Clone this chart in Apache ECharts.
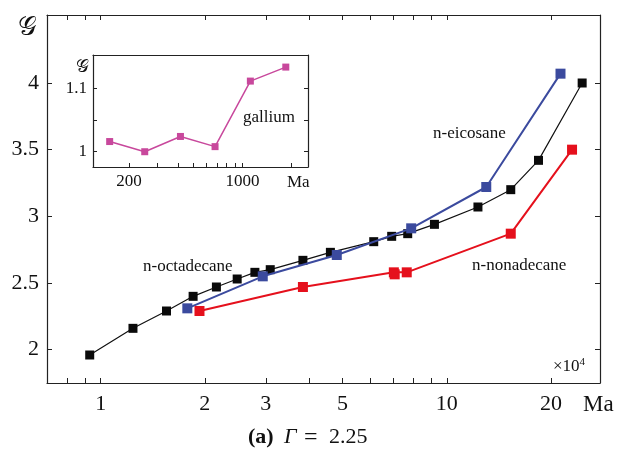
<!DOCTYPE html>
<html>
<head>
<meta charset="utf-8">
<script src="https://cdn.jsdelivr.net/npm/echarts@6/dist/echarts.min.js"></script>
<style>html,body{margin:0;padding:0;background:#fff}#c{width:618px;height:450px}</style>
</head>
<body>
<div id="c"></div>
<script>
// ---- data (Ma in units of 10^4, G values) ----
var octadecaneMa = [0.93, 1.24, 1.55, 1.85, 2.16, 2.48, 2.79, 3.09, 3.84, 4.61, 6.15, 6.93, 7.71, 9.21, 12.3, 15.3, 18.4, 24.6];
var octadecaneG  = [1.96, 2.16, 2.29, 2.40, 2.47, 2.53, 2.58, 2.60, 2.67, 2.73, 2.81, 2.85, 2.87, 2.94, 3.07, 3.20, 3.42, 4.00];
var eicosaneMa = [1.78, 2.94, 4.81, 7.89, 13.0, 21.3];
var eicosaneG  = [2.31, 2.55, 2.71, 2.91, 3.22, 4.07];
var nonadecaneMa = [1.93, 3.84, 7.03, 7.07, 7.66, 15.3, 23.0];
var nonadecaneG  = [2.29, 2.47, 2.58, 2.565, 2.58, 2.87, 3.50];
var galliumMa = [152, 250, 415, 678, 1119, 1850];
var galliumG  = [1.016, 1.000, 1.024, 1.008, 1.111, 1.133];

var mainXTickValues  = [0.8, 0.9, 1, 2, 3, 4, 5, 6, 7, 8, 9, 10, 20];
var mainXLabelValues = [1, 2, 3, 5, 10, 20];
var mainYTickValues  = [2, 2.5, 3, 3.5, 4];
var insetXTickValues = [200, 300, 400, 500, 600, 700, 800, 900, 1000, 2000];
var insetXLabelValues = [200, 1000];
var insetYTickValues = [1, 1.05, 1.1];
var insetYLabelValues = [1, 1.1];

function zip(a, b) { return a.map(function (v, i) { return [v, b[i]]; }); }

var serif = '"Liberation Serif", "DejaVu Serif", serif';
var axisLine = { show: true, onZero: false, lineStyle: { color: '#222', width: 1.2 } };

var chart = echarts.init(document.getElementById('c'), null, { renderer: 'canvas' });
chart.setOption({
  animation: false,
  backgroundColor: '#fff',
  grid: [
    { left: 47, right: 18, top: 15, bottom: 67 },
    { left: 93, top: 55, width: 215, height: 112 }
  ],
  xAxis: [
    { type: 'log', logBase: 10, gridIndex: 0, min: 0.7, max: 27.7, position: 'bottom',
      axisLine: axisLine, splitLine: { show: false }, minorTick: { show: false },
      axisTick: { show: true, inside: true, length: 5, lineStyle: { color: '#222' }, customValues: mainXTickValues },
      axisLabel: { show: true, customValues: mainXLabelValues, fontFamily: serif, fontSize: 22, color: '#111', margin: 10,
        formatter: function (v) { return String(Math.round(v)); } } },
    { type: 'log', logBase: 10, gridIndex: 0, min: 0.7, max: 27.7, position: 'top',
      axisLine: axisLine, splitLine: { show: false },
      axisTick: { show: true, inside: true, length: 5, lineStyle: { color: '#222' }, customValues: mainXTickValues },
      axisLabel: { show: false } },
    { type: 'log', logBase: 10, gridIndex: 1, min: 120, max: 2535, position: 'bottom',
      axisLine: axisLine, splitLine: { show: false },
      axisTick: { show: true, inside: true, length: 4, lineStyle: { color: '#222' }, customValues: insetXTickValues },
      axisLabel: { show: true, customValues: insetXLabelValues, fontFamily: serif, fontSize: 17, color: '#111', margin: 6,
        formatter: function (v) { return String(Math.round(v)); } } },
    { type: 'log', logBase: 10, gridIndex: 1, min: 120, max: 2535, position: 'top',
      axisLine: axisLine, splitLine: { show: false }, axisTick: { show: false }, axisLabel: { show: false } }
  ],
  yAxis: [
    { type: 'value', gridIndex: 0, min: 1.75, max: 4.51, position: 'left',
      axisLine: axisLine, splitLine: { show: false },
      axisTick: { show: true, inside: true, length: 5, lineStyle: { color: '#222' }, customValues: mainYTickValues },
      axisLabel: { customValues: mainYTickValues, fontFamily: serif, fontSize: 22, color: '#111', margin: 8 } },
    { type: 'value', gridIndex: 0, min: 1.75, max: 4.51, position: 'right',
      axisLine: axisLine, splitLine: { show: false },
      axisTick: { show: true, inside: true, length: 5, lineStyle: { color: '#222' }, customValues: mainYTickValues },
      axisLabel: { show: false } },
    { type: 'value', gridIndex: 1, min: 0.976, max: 1.152, position: 'left',
      axisLine: axisLine, splitLine: { show: false },
      axisTick: { show: true, inside: true, length: 4, lineStyle: { color: '#222' }, customValues: insetYTickValues },
      axisLabel: { customValues: insetYLabelValues, fontFamily: serif, fontSize: 17, color: '#111', margin: 6 } },
    { type: 'value', gridIndex: 1, min: 0.976, max: 1.152, position: 'right',
      axisLine: axisLine, splitLine: { show: false },
      axisTick: { show: true, inside: true, length: 4, lineStyle: { color: '#222' }, customValues: insetYTickValues },
      axisLabel: { show: false } }
  ],
  series: [
    { name: 'n-octadecane', type: 'line', xAxisIndex: 0, yAxisIndex: 0, data: zip(octadecaneMa, octadecaneG),
      symbol: 'rect', symbolSize: 9, lineStyle: { color: '#111', width: 1.2 }, itemStyle: { color: '#0a0a0a' }, z: 3 },
    { name: 'n-eicosane', type: 'line', xAxisIndex: 0, yAxisIndex: 0, data: zip(eicosaneMa, eicosaneG),
      symbol: 'rect', symbolSize: 10, lineStyle: { color: '#3b4a9e', width: 2 }, itemStyle: { color: '#3b4a9e' }, z: 4 },
    { name: 'n-nonadecane', type: 'line', xAxisIndex: 0, yAxisIndex: 0, data: zip(nonadecaneMa, nonadecaneG),
      symbol: 'rect', symbolSize: 10, lineStyle: { color: '#e5101c', width: 2 }, itemStyle: { color: '#e5101c' }, z: 4 },
    { name: 'gallium', type: 'line', xAxisIndex: 2, yAxisIndex: 2, data: zip(galliumMa, galliumG),
      symbol: 'rect', symbolSize: 7, lineStyle: { color: '#c8489c', width: 1.5 }, itemStyle: { color: '#c8489c' }, z: 12 }
  ],
  graphic: [
    { type: 'text', left: 18, top: 15, z: 20, style: { text: '𝒢', font: '26px "DejaVu Serif", serif', fill: '#111' } },
    { type: 'text', left: 583, top: 393, z: 20, style: { text: 'Ma', font: '23px "Liberation Serif", serif', fill: '#111' } },
    { type: 'text', left: 553, top: 357, z: 20, style: { text: '{a|×10}{b|4}', rich: { a: { font: '17px "Liberation Serif", serif', fill: '#111' }, b: { font: '11px "Liberation Serif", serif', fill: '#111', verticalAlign: 'top', padding: [0, 0, 8, 0] } } } },
    { type: 'text', left: 433, top: 125, z: 20, style: { text: 'n-eicosane', font: '17px "Liberation Serif", serif', fill: '#111' } },
    { type: 'text', left: 143, top: 258, z: 20, style: { text: 'n-octadecane', font: '17px "Liberation Serif", serif', fill: '#111' } },
    { type: 'text', left: 472, top: 257, z: 20, style: { text: 'n-nonadecane', font: '17px "Liberation Serif", serif', fill: '#111' } },
    { type: 'text', left: 243, top: 109, z: 20, style: { text: 'gallium', font: '17px "Liberation Serif", serif', fill: '#111' } },
    { type: 'text', left: 76, top: 58, z: 20, style: { text: '𝒢', font: '18px "DejaVu Serif", serif', fill: '#111' } },
    { type: 'text', left: 287, top: 174, z: 20, style: { text: 'Ma', font: '17px "Liberation Serif", serif', fill: '#111' } },
    { type: 'text', left: 248, top: 426, z: 20, style: { text: '(a)', font: 'bold 22px "Liberation Serif", serif', fill: '#111' } },
    { type: 'text', left: 284, top: 426, z: 20, style: { text: 'Γ', font: 'italic 22px "Liberation Serif", serif', fill: '#111' } },
    { type: 'text', left: 304, top: 426, z: 20, style: { text: '=', font: '24px "Liberation Serif", serif', fill: '#111' } },
    { type: 'text', left: 329, top: 426, z: 20, style: { text: '2.25', font: '22px "Liberation Serif", serif', fill: '#111' } }
  ]
});
</script>
</body>
</html>
